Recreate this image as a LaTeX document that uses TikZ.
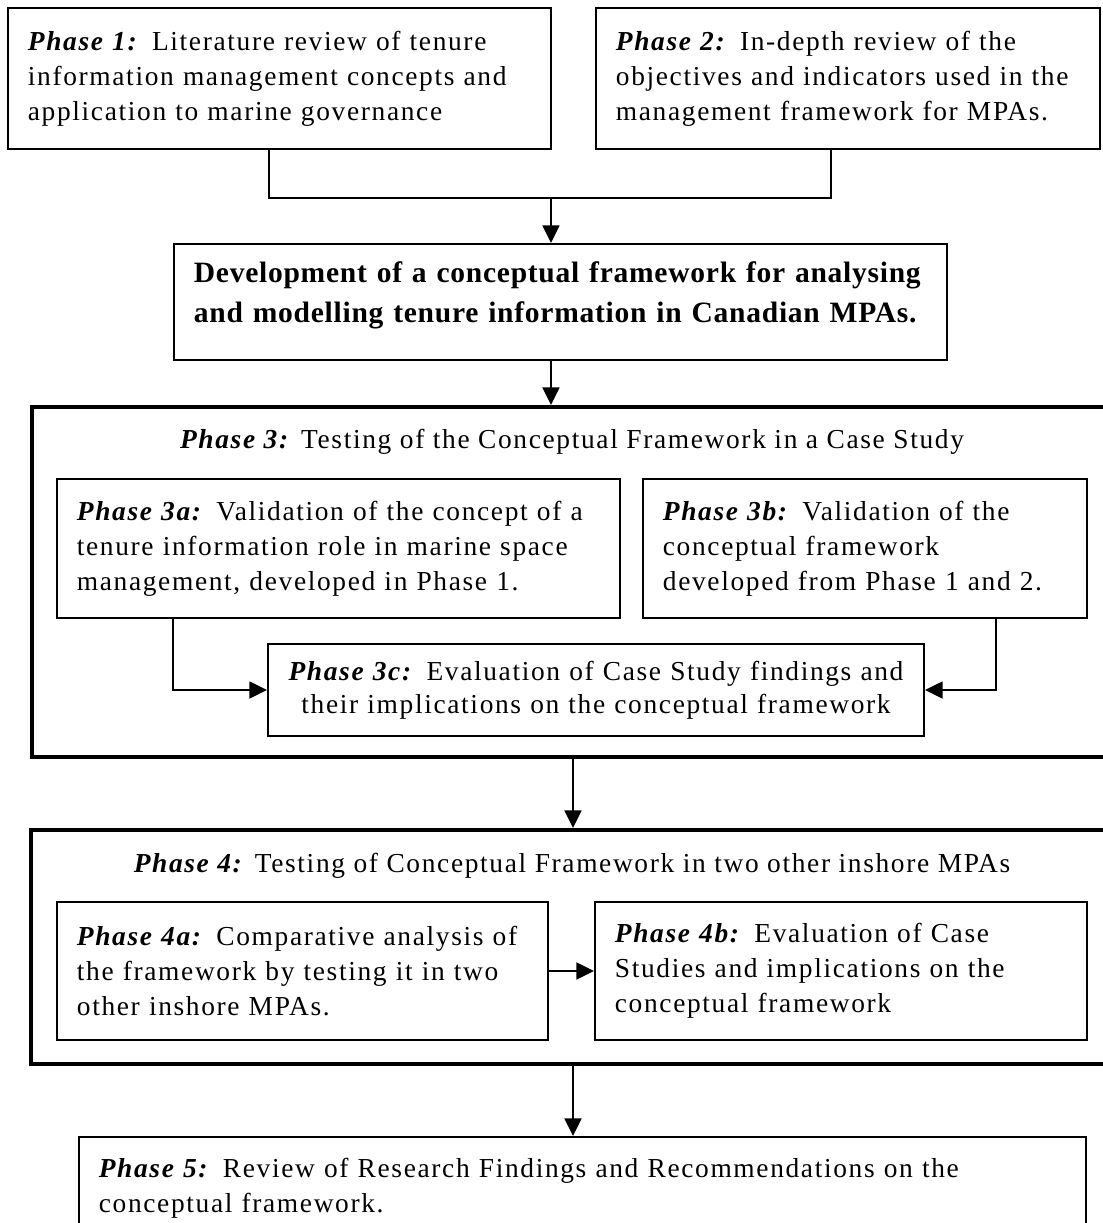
\documentclass[tikz,border=0pt]{standalone}
\usepackage{fontspec}
\setmainfont{Liberation Serif}[LetterSpace=6]
\usetikzlibrary{arrows.meta,positioning}

\newcommand{\phs}[1]{\textbf{\textit{Phase #1:}}}

\begin{document}
\begin{tikzpicture}
    [x=0.025cm, y=-0.025cm,
    bx/.style={
      rectangle,
      draw=black, line width=1.4pt,
      inner xsep=0.5cm, inner ysep=0pt,
      text width=#1, align=left,
      font=\fontsize{19.5}{25}\selectfont
      },
    outer/.style={rectangle, draw=black, line width=2.8pt, inner sep=0pt},
    ttl/.style={inner sep=0pt, font=\fontsize{19.5}{25}\selectfont},
    arr/.style={-{Triangle[length=12.5pt,width=12pt]}, line width=1.4pt},
    ln/.style={line width=1.4pt}]

    \useasboundingbox (0,0) rectangle (1103,1223);

    % top row
    \node (p1)  [bx=12.575cm, minimum height=3.525cm] at (279.5,78.5)
      {\phs{1} Literature review of tenure\\ information management concepts and\\ application to marine governance};
    \node (p2)  [bx=11.6cm, minimum height=3.525cm] at (848,78.5)
      {\phs{2} In-depth review of the\\ objectives and indicators used in the\\ management framework for MPAs.};
    \node (dev) [bx=18.325cm, minimum height=2.9cm,
                 font=\fontsize{21}{28}\selectfont\bfseries\addfontfeatures{LetterSpace=2.5}] at (560.5,302)
      {Development of a conceptual framework for analysing\\ and modelling tenure information in Canadian MPAs.\\[-14pt] ~};

    % phase 3
    \node (p3)  [outer, minimum width=27cm, minimum height=8.75cm] at (572,582) {};
    \node (t3)  [ttl] at (572,442) {\phs{3} Testing of the Conceptual Framework in a Case Study};
    \node (p3a) [bx=13.075cm, minimum height=3.475cm] at (338.5,548.5)
      {\phs{3a} Validation of the concept of a\\ tenure information role in marine space\\ management, developed in Phase 1.};
    \node (p3b) [bx=10.1cm, minimum height=3.475cm] at (865,548.5)
      {\phs{3b} Validation of the\\ conceptual framework\\ developed from Phase 1 and 2.};
    \node (p3c) [bx=15.4cm, minimum height=2.3cm, align=center, font=\fontsize{19.5}{23.5}\selectfont] at (596,690)
      {\phs{3c} Evaluation of Case Study findings and\\ their implications on the conceptual framework};

    % phase 4
    \node (p4)  [outer, minimum width=27.025cm, minimum height=5.85cm] at (571.5,947) {};
    \node (t4)  [ttl] at (572,866) {\phs{4} Testing of Conceptual Framework in two other inshore MPAs};
    \node (p4a) [bx=11.275cm, minimum height=3.45cm] at (302.5,971)
      {\phs{4a} Comparative analysis of\\ the framework by testing it in two\\ other inshore MPAs.};
    \node (p4b) [bx=11.3cm, minimum height=3.45cm] at (841,971)
      {\phs{4b} Evaluation of Case\\ Studies and implications on the\\ conceptual framework};

    % phase 5
    \node (p5)  [bx=24.175cm, minimum height=2.575cm] at (582.5,1188.5)
      {\phs{5} Review of Research Findings and Recommendations on the\\ conceptual framework.};

    \coordinate (jl) at (269,198);
    \coordinate (jr) at (831,198);
    \coordinate (jm) at (551,198);
    \coordinate (jb) at (573,0);
    \coordinate (ja) at (173,0);
    \coordinate (jc) at (996,0);

    \draw[ln] (p1.south -| jl) -- (jl) -- (jr) -- (p2.south -| jr);
    \draw[arr] (jm) -- (dev.north -| jm);
    \draw[arr] (dev.south -| jm) -- (p3.north -| jm);
    \draw[arr] (p3a.south -| ja) |- (p3c.west);
    \draw[arr] (p3b.south -| jc) |- (p3c.east);
    \draw[arr] (p3.south -| jb) -- (p4.north -| jb);
    \draw[arr] (p4a) -- (p4b);
    \draw[arr] (p4.south -| jb) -- (p5.north -| jb);

  \end{tikzpicture}
\end{document}
